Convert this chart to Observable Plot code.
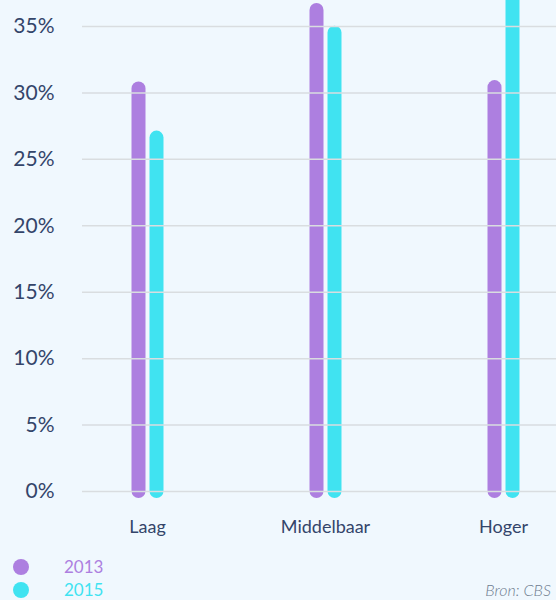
<!DOCTYPE html>
<html>
<head>
<meta charset="utf-8">
<script src="https://cdn.jsdelivr.net/npm/d3@7"></script>
<script src="https://cdn.jsdelivr.net/npm/@observablehq/plot@0.6"></script>
<style>
  html, body { margin: 0; padding: 0; background: #f0f8fe; }
  body { width: 556px; height: 600px; overflow: hidden; position: relative; font-family: Lato, "Noto Sans", sans-serif; }
  #chart svg { display: block; background: transparent; }
  .legend { position: absolute; left: 0; top: 550px; width: 556px; height: 50px; }
  .item { position: absolute; left: 13px; display: flex; align-items: center; font-size: 17px; line-height: 19px; }
  .dot { width: 16px; height: 16px; border-radius: 50%; margin-right: 35px; }
  .source { position: absolute; right: 5px; top: 31px; font-size: 16px; line-height: 18px; font-style: italic; font-weight: 300; color: #6f7d8f; }
</style>
</head>
<body>
<div id="chart"></div>
<div class="legend" id="legend"></div>
<script>
const categories = ["Laag", "Middelbaar", "Hoger"];
const years = ["2013", "2015"];
const values2013 = [30.3, 36.2, 30.4];
const values2015 = [26.6, 34.5, 40.0];
const yTicks = [0, 5, 10, 15, 20, 25, 30, 35];
const colors = ["#ad7fe0", "#40e3f1"];
const source = "Bron: CBS";

const data = [];
categories.forEach((c, i) => {
  data.push({category: c, year: years[0], value: values2013[i]});
  data.push({category: c, year: years[1], value: values2015[i]});
});

const plot = Plot.plot({
  width: 556,
  height: 550,
  marginTop: 26,
  marginBottom: 59,
  marginLeft: 82,
  marginRight: 0,
  style: {background: "transparent", fontFamily: "Lato, 'Noto Sans', sans-serif", overflow: "visible"},
  x: {type: "point", domain: categories, range: [58, 592], padding: 0.5, label: null},
  y: {domain: [0, 35], label: null},
  color: {domain: years, range: colors},
  marks: [
    Plot.ruleX(data.filter(d => d.year === years[0]), {
      x: "category", y1: 0, y2: "value", dx: -9,
      stroke: "year", strokeWidth: 14, strokeLinecap: "round"
    }),
    Plot.ruleX(data.filter(d => d.year === years[1]), {
      x: "category", y1: 0, y2: "value", dx: 9,
      stroke: "year", strokeWidth: 14, strokeLinecap: "round"
    }),
    Plot.gridY(yTicks, {stroke: "#d9dde0", strokeOpacity: 1, strokeWidth: 1.5}),
    Plot.axisY(yTicks, {
      tickSize: 0, tickPadding: 28, tickFormat: d => d + "%",
      fontSize: 21, fill: "#34456a", label: null
    }),
    Plot.axisX({
      tickSize: 0, tickPadding: 29, fontSize: 18, fill: "#34456a", label: null
    })
  ]
});
document.getElementById("chart").appendChild(plot);

const legend = document.getElementById("legend");
years.forEach((y, i) => {
  const item = document.createElement("div");
  item.className = "item";
  item.style.top = (i === 0 ? 7 : 30) + "px";
  item.style.color = colors[i];
  const dot = document.createElement("span");
  dot.className = "dot";
  dot.style.background = colors[i];
  const label = document.createElement("span");
  label.textContent = y;
  item.appendChild(dot);
  item.appendChild(label);
  legend.appendChild(item);
});
const src = document.createElement("div");
src.className = "source";
src.textContent = source;
legend.appendChild(src);
</script>
</body>
</html>
